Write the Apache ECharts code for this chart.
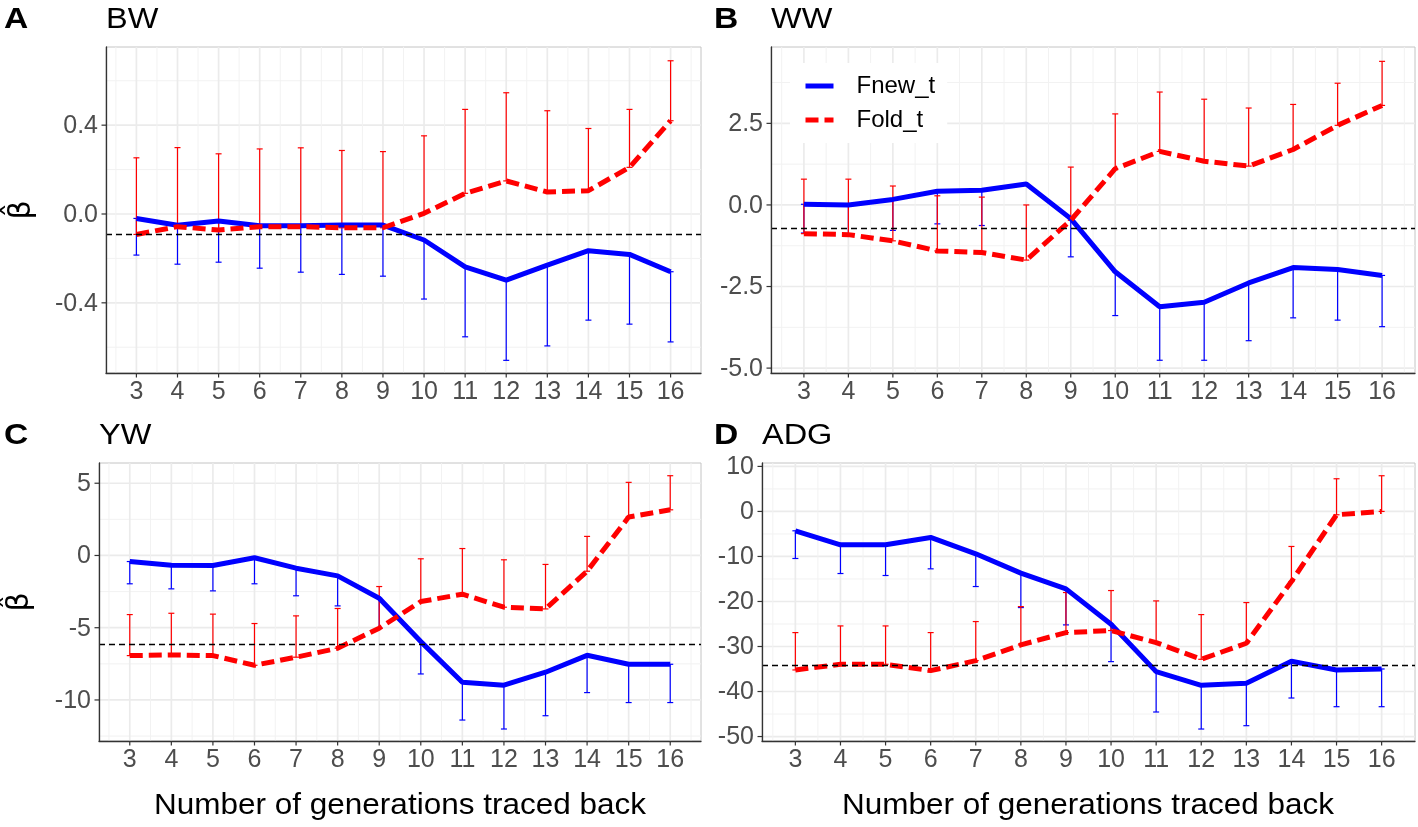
<!DOCTYPE html>
<html><head><meta charset="utf-8">
<script src="https://cdn.jsdelivr.net/npm/echarts@6/dist/echarts.min.js"></script>
<style>html,body{margin:0;padding:0;background:#fff;}#c{width:1418px;height:827px;}</style>
</head><body><div id="c"></div>
<script>
// ---------- data ----------
const generations = [3,4,5,6,7,8,9,10,11,12,13,14,15,16];
const xMinorTicks = [2.5,3.5,4.5,5.5,6.5,7.5,8.5,9.5,10.5,11.5,12.5,13.5,14.5,15.5,16.5];

const bwFnew       = [-0.020,-0.051,-0.032,-0.053,-0.053,-0.050,-0.050,-0.117,-0.238,-0.298,-0.230,-0.165,-0.182,-0.260];
const bwFnewLower  = [-0.185,-0.226,-0.217,-0.244,-0.262,-0.272,-0.280,-0.383,-0.553,-0.659,-0.594,-0.478,-0.496,-0.576];
const bwFold       = [-0.092,-0.057,-0.072,-0.057,-0.057,-0.062,-0.062,0.003,0.093,0.149,0.099,0.105,0.210,0.420];
const bwFoldUpper  = [0.253,0.299,0.271,0.293,0.298,0.286,0.281,0.352,0.471,0.546,0.465,0.385,0.471,0.690];
const bwRef = -0.09;
const bwTicks = [-0.4,0,0.4];
const bwTickLabels = ['-0.4','0.0','0.4'];
const bwMinorTicks = [-0.6,-0.2,0.2,0.6];

const wwFnew       = [0.02,0.00,0.17,0.42,0.45,0.64,-0.42,-2.05,-3.12,-2.98,-2.39,-1.92,-1.98,-2.16];
const wwFnewLower  = [-0.86,-0.88,-0.78,-0.58,-0.63,null,-1.59,-3.39,-4.76,-4.76,-4.16,-3.46,-3.53,-3.73];
const wwFold       = [-0.88,-0.91,-1.10,-1.41,-1.46,-1.69,-0.47,1.11,1.64,1.34,1.19,1.70,2.44,3.05];
const wwFoldUpper  = [0.79,0.79,0.58,0.28,0.24,0.00,1.16,2.79,3.46,3.24,2.97,3.08,3.73,4.40];
const wwRef = -0.71;
const wwTicks = [-5,-2.5,0,2.5];
const wwTickLabels = ['-5.0','-2.5','0.0','2.5'];
const wwMinorTicks = [-3.75,-1.25,1.25,3.75];

const ywFnew       = [-0.42,-0.67,-0.69,-0.16,-0.88,-1.41,-2.96,-5.96,-8.78,-8.98,-8.08,-6.91,-7.53,-7.53];
const ywFnewLower  = [-1.96,-2.31,-2.45,-1.96,-2.79,-3.49,-4.99,-8.20,-11.39,-12.01,-11.09,-9.49,-10.18,-10.18];
const ywFold       = [-6.93,-6.88,-6.93,-7.60,-7.04,-6.42,-5.03,-3.19,-2.68,-3.58,-3.70,-1.09,2.66,3.16];
const ywFoldUpper  = [-4.09,-4.00,-4.06,-4.71,-4.18,-3.67,-2.15,-0.23,0.48,-0.30,-0.62,1.32,5.06,5.52];
const ywRef = -6.14;
const ywTicks = [-10,-5,0,5];
const ywTickLabels = ['-10','-5','0','5'];
const ywMinorTicks = [-12.5,-7.5,-2.5,2.5];

const adgFnew      = [-4.30,-7.41,-7.41,-5.78,-9.41,-13.71,-17.20,-25.06,-35.58,-38.62,-38.18,-33.28,-35.21,-34.99];
const adgFnewLower = [-10.45,-13.79,-14.23,-12.75,-16.68,-21.35,-25.20,-33.36,-44.55,-48.33,-47.59,-41.44,-43.37,-43.37];
const adgFold      = [-35.21,-33.95,-33.95,-35.36,-33.14,-29.65,-26.91,-26.46,-29.13,-32.84,-29.28,-15.57,-0.74,0.00];
const adgFoldUpper = [-26.91,-25.43,-25.43,-26.91,-24.46,-21.13,-18.01,-17.57,-19.87,-22.91,-20.24,-7.78,7.26,7.93];
const adgRef = -34.17;
const adgTicks = [-50,-40,-30,-20,-10,0,10];
const adgTickLabels = ['-50','-40','-30','-20','-10','0','10'];
const adgMinorTicks = [-45,-35,-25,-15,-5,5];

const panelTitles = ['BW','WW','YW','ADG'];
const panelTags = ['A','B','C','D'];
const seriesNames = ['Fnew_t','Fold_t'];
const xAxisTitle = 'Number of generations traced back';
const yAxisTitle = 'β\u0302';

// ---------- layout / style ----------
const FONT = '"Liberation Sans", Arial, sans-serif';
const BLUE = '#0000ff', RED = '#ff0000';
const X_MIN = 2.26, X_MAX = 16.74;

const panels = [
  {grid:{left:106, top:47, width:595, height:326}, yRange:[-0.716,0.752], titleY:20, tagX:4,
   fnew:bwFnew, fnewLo:bwFnewLower, fold:bwFold, foldHi:bwFoldUpper, ref:bwRef,
   ticks:bwTicks, labels:bwTickLabels, minor:bwMinorTicks},
  {grid:{left:771, top:47, width:644, height:326}, yRange:[-5.15,4.84], titleY:20, tagX:714,
   fnew:wwFnew, fnewLo:wwFnewLower, fold:wwFold, foldHi:wwFoldUpper, ref:wwRef,
   ticks:wwTicks, labels:wwTickLabels, minor:wwMinorTicks},
  {grid:{left:99, top:463, width:602, height:278}, yRange:[-12.84,6.40], titleY:436, tagX:4,
   fnew:ywFnew, fnewLo:ywFnewLower, fold:ywFold, foldHi:ywFoldUpper, ref:ywRef,
   ticks:ywTicks, labels:ywTickLabels, minor:ywMinorTicks},
  {grid:{left:762, top:463, width:653, height:278}, yRange:[-50.99,10.76], titleY:436, tagX:714,
   fnew:adgFnew, fnewLo:adgFnewLower, fold:adgFold, foldHi:adgFoldUpper, ref:adgRef,
   ticks:adgTicks, labels:adgTickLabels, minor:adgMinorTicks}
];

function yGridRender(labels, nMajor) {
  return function (params, api) {
    const cs = params.coordSys;
    const y = api.coord([api.value(0), api.value(1)])[1];
    const major = params.dataIndex < nMajor;
    const ch = [{type:'line', shape:{x1:cs.x, y1:y, x2:cs.x+cs.width, y2:y},
      style:{stroke: major ? '#ebebeb' : '#f2f2f2', lineWidth: major ? 1.7 : 1}}];
    if (major) {
      ch.push({type:'line', shape:{x1:cs.x-4.5, y1:y, x2:cs.x, y2:y}, style:{stroke:'#333', lineWidth:1.2}});
      ch.push({type:'text', x:cs.x-8, y:y+1, style:{text:labels[params.dataIndex], align:'right',
        verticalAlign:'middle', font:'25px ' + FONT, fill:'#4d4d4d'}});
    }
    return {type:'group', children:ch};
  };
}
function xGridRender(nMajor) {
  return function (params, api) {
    const cs = params.coordSys;
    const x = api.coord([api.value(0), api.value(1)])[0];
    const major = params.dataIndex < nMajor;
    const yb = cs.y + cs.height;
    const ch = [{type:'line', shape:{x1:x, y1:cs.y, x2:x, y2:yb},
      style:{stroke: major ? '#ebebeb' : '#f2f2f2', lineWidth: major ? 1.7 : 1}}];
    if (major) {
      ch.push({type:'line', shape:{x1:x, y1:yb, x2:x, y2:yb+4.5}, style:{stroke:'#333', lineWidth:1.2}});
      ch.push({type:'text', x:x, y:yb+19, style:{text:String(generations[params.dataIndex]), align:'center',
        verticalAlign:'middle', font:'25px ' + FONT, fill:'#4d4d4d'}});
    }
    return {type:'group', children:ch};
  };
}
function errRender(color) {
  return function (params, api) {
    const x = api.value(0), lo = api.value(1), hi = api.value(2);
    if (isNaN(lo) || isNaN(hi)) return;
    const p1 = api.coord([x, lo]), p2 = api.coord([x, hi]);
    const st = {stroke:color, lineWidth:1.2};
    return {type:'group', children:[
      {type:'line', shape:{x1:p1[0], y1:p1[1], x2:p2[0], y2:p2[1]}, style:st},
      {type:'line', shape:{x1:p1[0]-3, y1:p1[1], x2:p1[0]+3, y2:p1[1]}, style:st},
      {type:'line', shape:{x1:p2[0]-3, y1:p2[1], x2:p2[0]+3, y2:p2[1]}, style:st}
    ]};
  };
}

const grids = [], xAxes = [], yAxes = [], series = [], graphics = [];
panels.forEach((p, i) => {
  grids.push(Object.assign({show:true, borderColor:'#c4c4c4', borderWidth:1, backgroundColor:'#fff'}, p.grid));
  xAxes.push({type:'value', gridIndex:i, min:X_MIN, max:X_MAX, z:5,
    axisLine:{show:true, onZero:false, lineStyle:{color:'#333', width:1.3}},
    axisTick:{show:false}, axisLabel:{show:false}, splitLine:{show:false}});
  yAxes.push({type:'value', gridIndex:i, min:p.yRange[0], max:p.yRange[1], z:5,
    axisLine:{show:true, onZero:false, lineStyle:{color:'#333', width:1.3}},
    axisTick:{show:false}, axisLabel:{show:false}, splitLine:{show:false}});
  const yVals = p.ticks.concat(p.minor);
  series.push({type:'custom', xAxisIndex:i, yAxisIndex:i, silent:true, z:1,
    renderItem: yGridRender(p.labels, p.ticks.length),
    data: yVals.map(v => [X_MIN, v]),
    markLine:{silent:true, symbol:'none', label:{show:false},
      lineStyle:{color:'#000', type:[6,4], width:1.4}, data:[{yAxis:p.ref}]}});
  const xVals = generations.concat(xMinorTicks);
  series.push({type:'custom', xAxisIndex:i, yAxisIndex:i, silent:true, z:1,
    renderItem: xGridRender(generations.length),
    data: xVals.map(v => [v, p.yRange[0]])});
  series.push({type:'custom', xAxisIndex:i, yAxisIndex:i, silent:true, z:2,
    renderItem: errRender(BLUE),
    data: generations.map((g, k) => [g, p.fnewLo[k] == null ? '-' : p.fnewLo[k], p.fnew[k]])});
  series.push({type:'custom', xAxisIndex:i, yAxisIndex:i, silent:true, z:2,
    renderItem: errRender(RED),
    data: generations.map((g, k) => [g, p.fold[k], p.foldHi[k]])});
  series.push({type:'line', name:seriesNames[0], xAxisIndex:i, yAxisIndex:i, z:3,
    symbol:'none', color:BLUE, lineStyle:{color:BLUE, width:5}, animation:false,
    data: generations.map((g, k) => [g, p.fnew[k]])});
  series.push({type:'line', name:seriesNames[1], xAxisIndex:i, yAxisIndex:i, z:4,
    symbol:'none', color:RED, lineStyle:{color:RED, width:5, type:[13,6]}, animation:false,
    data: generations.map((g, k) => [g, p.fold[k]])});
  graphics.push({type:'text', x:p.tagX, y:p.titleY, scaleX:1.12,
    style:{text:panelTags[i], align:'left', verticalAlign:'middle', font:'bold 30px ' + FONT, fill:'#000'}});
  graphics.push({type:'text', x:p.grid.left, y:p.titleY, scaleX:1.12,
    style:{text:panelTitles[i], align:'left', verticalAlign:'middle', font:'29px ' + FONT, fill:'#000'}});
});
graphics.push(
  {type:'text', x:22, y:210, rotation:Math.PI/2, style:{text:yAxisTitle, align:'center', verticalAlign:'middle', font:'30px "DejaVu Sans", sans-serif', fill:'#000'}},
  {type:'text', x:20, y:602, rotation:Math.PI/2, style:{text:yAxisTitle, align:'center', verticalAlign:'middle', font:'30px "DejaVu Sans", sans-serif', fill:'#000'}},
  {type:'text', x:400, y:806, scaleX:1.05, style:{text:xAxisTitle, align:'center', verticalAlign:'middle', font:'30px ' + FONT, fill:'#000'}},
  {type:'text', x:1088, y:806, scaleX:1.05, style:{text:xAxisTitle, align:'center', verticalAlign:'middle', font:'30px ' + FONT, fill:'#000'}}
);

const option = {
  animation:false,
  backgroundColor:'#fff',
  grid: grids, xAxis: xAxes, yAxis: yAxes, series: series,
  legend: {data: seriesNames, orient:'vertical', left:790, top:63,
    padding:[11,12,11,13], backgroundColor:'#fff', itemWidth:28, itemHeight:14, itemGap:10,
    itemStyle:{opacity:0, borderWidth:0}, lineStyle:{width:5},
    textStyle:{fontSize:24, color:'#000', fontFamily:FONT, padding:[0,0,0,18]}},
  graphic: graphics
};
const chart = echarts.init(document.getElementById('c'), null, {renderer:'canvas'});
chart.setOption(option);
</script>
</body></html>
